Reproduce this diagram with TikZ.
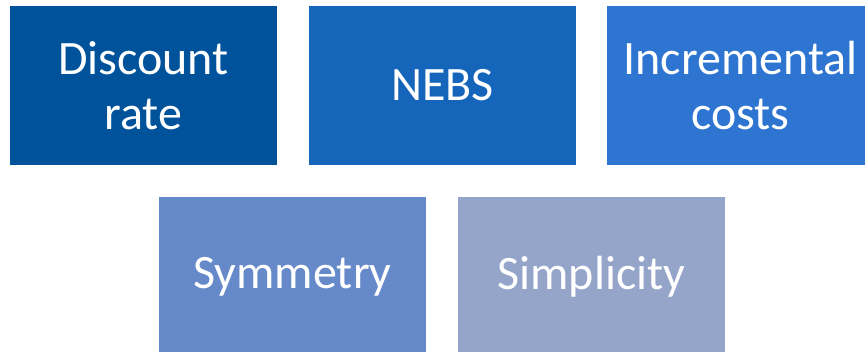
\documentclass[tikz,border=0pt]{standalone}
\usepackage{fontspec}
\setmainfont{Carlito}
\definecolor{cA}{RGB}{0,82,155}
\definecolor{cB}{RGB}{21,101,187}
\definecolor{cC}{RGB}{46,117,210}
\definecolor{cD}{RGB}{102,137,202}
\definecolor{cE}{RGB}{149,165,202}
\begin{document}
\begin{tikzpicture}[x=1pt,y=1pt,
  tile/.style={minimum width=267pt,minimum height=159pt,inner sep=0pt,
    text=white,align=center,font=\fontsize{48}{55}\selectfont}]
\useasboundingbox (0,0) rectangle (865,351);
\clip (0,0) rectangle (865,351);
\node[tile,fill=cA] (disc) at (143.5,265.5) {Discount\\rate};
\node[tile,fill=cB] (nebs) at (442.5,265.5) {NEBS};
\node[tile,fill=cC] (incr) at (740.5,265.5) {Incremental\\costs};
\node[tile,fill=cD] (symm) at (292.5,74.5) {Symmetry};
\node[tile,fill=cE] (simp) at (591.5,74.5) {Simplicity};
\end{tikzpicture}
\end{document}
